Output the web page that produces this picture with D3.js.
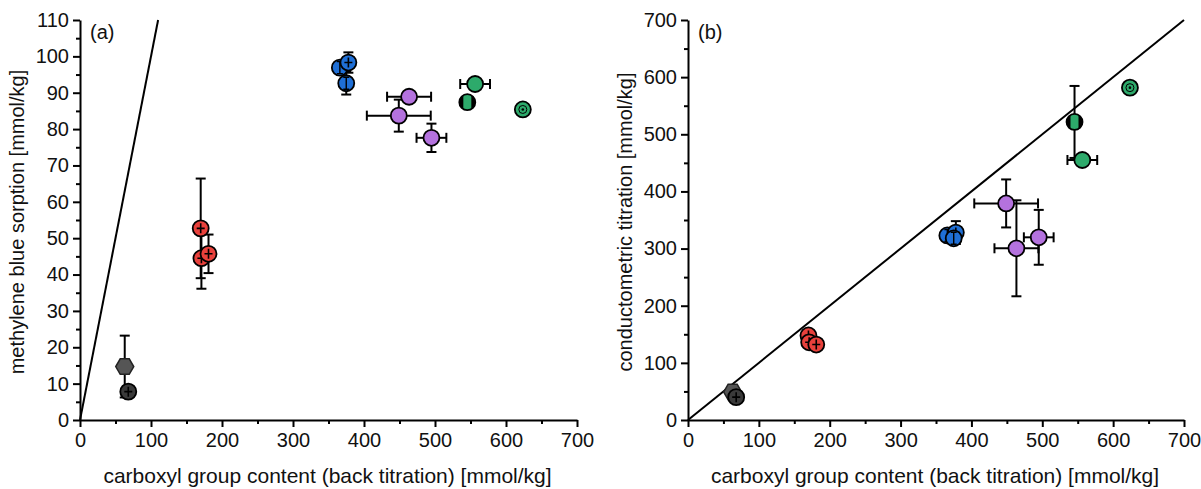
<!DOCTYPE html>
<html>
<head>
<meta charset="utf-8">
<script src="https://cdn.jsdelivr.net/npm/d3@7"></script>
<style>
  body { margin: 0; background: #fff; }
  text { font-family: "Liberation Sans", Arial, sans-serif; fill: #111; }
  .axis path, .axis line { stroke: #000; stroke-width: 2; }
  .axis text { font-size: 20px; }
</style>
</head>
<body>
<script>
// samples: x is shared by both panels (back titration)
var backX    = [63, 68, 170, 171, 181, 366, 378, 375, 449, 463.5, 495, 545.5, 556.5, 623.7];
var backXErr = [2, 3, 3, 3, 3, 4, 4, 3, 45, 31, 21, 3, 21, 3];
var mbSorption    = [14.7, 7.8, 52.7, 44.5, 45.7, 96.9, 98.3, 92.6, 83.7, 88.9, 77.6, 87.4, 92.4, 85.4];
var mbSorptionErr = [8.5, 1.5, 13.7, 8.4, 5.3, 1, 2.8, 3.1, 4.4, 1.2, 3.9, 1, 1, 1];
var condTitr    = [49, 40, 148, 136, 132, 323, 328, 318, 379, 300.5, 319.7, 521.6, 455, 581.6];
var condTitrErr = [3, 4, 4, 5, 4, 4, 20, 6, 42, 84, 48, 63, 8, 5];
var sampleGroup = ["gray", "black", "red", "red", "red", "blue", "blue", "blue",
                   "purple", "purple", "purple", "green", "green", "green"];
var glyph = ["hex", "plus", "plus", "plus", "plus", "vbar", "plus", "vbar",
             "none", "none", "none", "half", "none", "dot"];

var colors = {gray: "#555555", black: "#3a3a3a", red: "#e8413c", blue: "#1f6fd6",
              purple: "#b472de", green: "#2daa6b"};

var xTicks = [0, 100, 200, 300, 400, 500, 600, 700];
var yTicksA = [0, 10, 20, 30, 40, 50, 60, 70, 80, 90, 100, 110];
var yTicksB = [0, 100, 200, 300, 400, 500, 600, 700];

var svg = d3.select("body").append("svg")
    .attr("width", 1201)
    .attr("height", 489);

function drawPanel(opts) {
  var x = d3.scaleLinear().domain([0, 700]).range([opts.left, opts.right]);
  var y = d3.scaleLinear().domain([0, opts.ymax]).range([420, 20]);
  var g = svg.append("g");

  // minor ticks
  g.append("g").attr("class", "axis")
    .attr("transform", "translate(0,420)")
    .call(d3.axisBottom(x).tickValues(d3.range(50, 700, 100)).tickSize(4).tickFormat(""))
    .select(".domain").remove();
  g.append("g").attr("class", "axis")
    .attr("transform", "translate(" + opts.left + ",0)")
    .call(d3.axisLeft(y).tickValues(d3.range(opts.minor, opts.ymax, opts.minor * 2)).tickSize(4).tickFormat(""))
    .select(".domain").remove();

  // major axes
  g.append("g").attr("class", "axis")
    .attr("transform", "translate(0,420)")
    .call(d3.axisBottom(x).tickValues(xTicks).tickSize(7).tickSizeOuter(0).tickPadding(6));
  g.append("g").attr("class", "axis")
    .attr("transform", "translate(" + opts.left + ",0)")
    .call(d3.axisLeft(y).tickValues(opts.yTicks).tickSize(7).tickSizeOuter(0).tickPadding(4));

  // 1:1 line
  var lineEnd = Math.min(700, opts.ymax);
  g.append("line")
    .attr("x1", x(0)).attr("y1", y(0))
    .attr("x2", x(lineEnd)).attr("y2", y(lineEnd))
    .attr("stroke", "#000").attr("stroke-width", 2);

  // titles
  g.append("text")
    .attr("x", (opts.left + opts.right) / 2 - 1).attr("y", 483)
    .attr("text-anchor", "middle").style("font-size", "21px")
    .text("carboxyl group content (back titration) [mmol/kg]");
  g.append("text")
    .attr("transform", "translate(" + opts.titleX + ",222) rotate(-90)")
    .attr("text-anchor", "middle").style("font-size", "20px")
    .text(opts.yTitle);
  g.append("text")
    .attr("x", opts.left + 10).attr("y", 39)
    .style("font-size", "20px")
    .text(opts.label);

  var vals = opts.values, errs = opts.errors;
  var cap = 5;

  // error bars
  var eb = g.append("g").attr("stroke", "#000").attr("stroke-width", 2).attr("fill", "none");
  backX.forEach(function(d, i) {
    var cx = x(d), cy = y(vals[i]);
    var y0 = y(vals[i] - errs[i]), y1 = y(vals[i] + errs[i]);
    var x0 = x(d - backXErr[i]), x1 = x(d + backXErr[i]);
    eb.append("line").attr("x1", cx).attr("x2", cx).attr("y1", y0).attr("y2", y1);
    eb.append("line").attr("x1", cx - cap).attr("x2", cx + cap).attr("y1", y0).attr("y2", y0);
    eb.append("line").attr("x1", cx - cap).attr("x2", cx + cap).attr("y1", y1).attr("y2", y1);
    eb.append("line").attr("x1", x0).attr("x2", x1).attr("y1", cy).attr("y2", cy);
    eb.append("line").attr("x1", x0).attr("x2", x0).attr("y1", cy - cap).attr("y2", cy + cap);
    eb.append("line").attr("x1", x1).attr("x2", x1).attr("y1", cy - cap).attr("y2", cy + cap);
  });

  // markers
  var r = 8;
  var hexPath = d3.line()(d3.range(6).map(function(k) {
    var a = k * Math.PI / 3;
    return [9 * Math.cos(a), 9 * Math.sin(a)];
  })) + "Z";
  var mk = g.append("g");
  backX.forEach(function(d, i) {
    var m = mk.append("g").attr("transform", "translate(" + x(d) + "," + y(vals[i]) + ")");
    var col = colors[sampleGroup[i]];
    if (glyph[i] === "hex") {
      m.append("path").attr("d", hexPath).attr("fill", col).attr("stroke", "#222").attr("stroke-width", 1.5);
    } else {
      m.append("circle").attr("r", r).attr("fill", col).attr("stroke", "#000").attr("stroke-width", 1.8);
    }
    if (glyph[i] === "plus") {
      m.append("path").attr("d", "M-4,0H4M0,-5V5").attr("stroke", "#000").attr("stroke-width", 1.6);
    } else if (glyph[i] === "vbar") {
      m.append("path").attr("d", "M0,-6V6M-3,-6H3M-3,6H3").attr("stroke", "#000").attr("stroke-width", 1.4);
    } else if (glyph[i] === "dot") {
      m.append("circle").attr("r", 4).attr("fill", "none").attr("stroke", "#000").attr("stroke-width", 1);
      m.append("circle").attr("r", 1.3).attr("fill", "#000");
    } else if (glyph[i] === "half") {
      m.append("path").attr("d", "M-8,0A8,8 0 0 1 -4,-6.9V6.9A8,8 0 0 1 -8,0Z").attr("fill", "#000");
      m.append("path").attr("d", "M8,0A8,8 0 0 0 4,-6.9V6.9A8,8 0 0 0 8,0Z").attr("fill", "#000");
    }
  });
}

drawPanel({left: 80, right: 577, ymax: 110, minor: 5, yTicks: yTicksA,
  values: mbSorption, errors: mbSorptionErr, titleX: 24,
  yTitle: "methylene blue sorption [mmol/kg]", label: "(a)"});

drawPanel({left: 688, right: 1184, ymax: 700, minor: 50, yTicks: yTicksB,
  values: condTitr, errors: condTitrErr, titleX: 632,
  yTitle: "conductometric titration [mmol/kg]", label: "(b)"});
</script>
</body>
</html>
